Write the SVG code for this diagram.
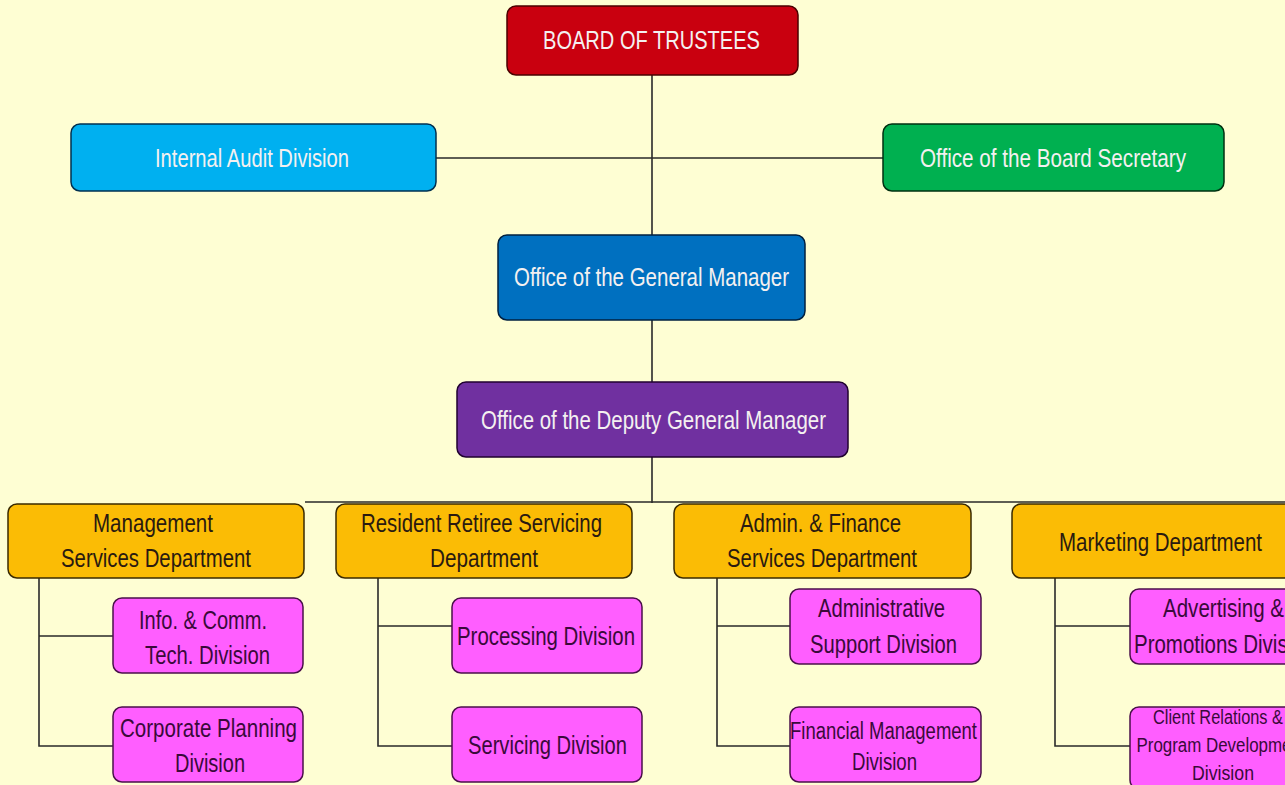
<svg xmlns="http://www.w3.org/2000/svg" width="1285" height="785" viewBox="0 0 1285 785">
<style>
.bx{stroke-width:1.5}
.t{font-family:"Liberation Sans Narrow","Liberation Sans",Arial,sans-serif;text-anchor:middle}
.top{fill:#f4f0f0;font-size:26px}
.dept rect{fill:#FBBC05;stroke:#3a2a00}
.dept text{fill:#2a1a10;font-size:25px}
.div rect{fill:#FF5EFF;stroke:#4a104a}
.div text{fill:#3a0a3a;font-size:25px}
.ln{stroke:#2a2a2a;stroke-width:1.6;fill:none}
</style>
<rect width="1285" height="785" fill="#FEFED3"/>
<g id="connectors" class="ln">
<path d="M652 75V503M436 158H883M305 502H1285"/>
<path d="M39 578V746H113M39 636H113"/>
<path d="M378 578V746H452M378 626H452"/>
<path d="M717 578V746H790M717 626H790"/>
<path d="M1055 578V746H1130M1055 626H1130"/>
</g>
<g id="board"><rect x="507" y="6" width="291" height="69" rx="9" fill="#C9000F" stroke="#4a0000" class="bx"/><text class="t top" x="651.5" y="49" textLength="217" lengthAdjust="spacingAndGlyphs">BOARD OF TRUSTEES</text></g>
<g id="audit"><rect x="71" y="124" width="365" height="67" rx="9" fill="#00B0F0" stroke="#003050" class="bx"/><text class="t top" x="252" y="167" textLength="194" lengthAdjust="spacingAndGlyphs">Internal Audit Division</text></g>
<g id="secretary"><rect x="883" y="124" width="341" height="67" rx="9" fill="#00B050" stroke="#003010" class="bx"/><text class="t top" x="1053" y="167" textLength="266" lengthAdjust="spacingAndGlyphs">Office of the Board  Secretary</text></g>
<g id="gm"><rect x="498" y="235" width="307" height="85" rx="9" fill="#0070C0" stroke="#002040" class="bx"/><text class="t top" x="651.5" y="286" textLength="275" lengthAdjust="spacingAndGlyphs">Office of the General Manager</text></g>
<g id="dgm"><rect x="457" y="382" width="391" height="75" rx="9" fill="#7030A0" stroke="#200030" class="bx"/><text class="t top" x="653.5" y="429" textLength="345" lengthAdjust="spacingAndGlyphs">Office of the Deputy General Manager</text></g>
<g id="msd" class="dept"><rect class="bx" x="8" y="504" width="296" height="74" rx="9"/><text class="t" x="153" y="532" textLength="120" lengthAdjust="spacingAndGlyphs">Management</text><text class="t" x="156" y="567" textLength="190" lengthAdjust="spacingAndGlyphs">Services Department</text></g>
<g id="rrsd" class="dept"><rect class="bx" x="336" y="504" width="296" height="74" rx="9"/><text class="t" x="481.5" y="532" textLength="241" lengthAdjust="spacingAndGlyphs">Resident Retiree Servicing</text><text class="t" x="484" y="567" textLength="108" lengthAdjust="spacingAndGlyphs">Department</text></g>
<g id="afsd" class="dept"><rect class="bx" x="674" y="504" width="297" height="74" rx="9"/><text class="t" x="820.5" y="532" textLength="161" lengthAdjust="spacingAndGlyphs">Admin. &amp; Finance</text><text class="t" x="822" y="567" textLength="190" lengthAdjust="spacingAndGlyphs">Services Department</text></g>
<g id="mkt" class="dept"><rect class="bx" x="1012" y="504" width="296" height="74" rx="9"/><text class="t" x="1160.5" y="551" textLength="203" lengthAdjust="spacingAndGlyphs">Marketing Department</text></g>
<g id="ictd" class="div"><rect class="bx" x="113" y="598" width="190" height="75" rx="9"/><text class="t" x="203" y="629" textLength="128" lengthAdjust="spacingAndGlyphs">Info. &amp; Comm.</text><text class="t" x="207.5" y="664" textLength="125" lengthAdjust="spacingAndGlyphs">Tech. Division</text></g>
<g id="cpd" class="div"><rect class="bx" x="113" y="707" width="190" height="75" rx="9"/><text class="t" x="208.5" y="737" textLength="177" lengthAdjust="spacingAndGlyphs">Corporate Planning</text><text class="t" x="210" y="772" textLength="70" lengthAdjust="spacingAndGlyphs">Division</text></g>
<g id="pd" class="div"><rect class="bx" x="452" y="598" width="190" height="75" rx="9"/><text class="t" x="546" y="645" textLength="178" lengthAdjust="spacingAndGlyphs">Processing Division</text></g>
<g id="sd" class="div"><rect class="bx" x="452" y="707" width="190" height="75" rx="9"/><text class="t" x="547.5" y="754" textLength="159" lengthAdjust="spacingAndGlyphs">Servicing Division</text></g>
<g id="asd" class="div"><rect class="bx" x="790" y="589" width="191" height="75" rx="9"/><text class="t" x="881.5" y="617" textLength="127" lengthAdjust="spacingAndGlyphs">Administrative</text><text class="t" x="883.5" y="653" textLength="147" lengthAdjust="spacingAndGlyphs">Support Division</text></g>
<g id="fmd" class="div"><rect class="bx" x="790" y="707" width="191" height="75" rx="9"/><text class="t" x="883.5" y="739" style="font-size:23px" textLength="187" lengthAdjust="spacingAndGlyphs">Financial Management</text><text class="t" x="884.5" y="770" style="font-size:23px" textLength="65" lengthAdjust="spacingAndGlyphs">Division</text></g>
<g id="apd" class="div"><rect class="bx" x="1130" y="589" width="190" height="75" rx="9"/><text class="t" x="1223.5" y="617" textLength="121" lengthAdjust="spacingAndGlyphs">Advertising &amp;</text><text class="t" x="1224.5" y="653" textLength="181" lengthAdjust="spacingAndGlyphs">Promotions Division</text></g>
<g id="crpd" class="div"><rect class="bx" x="1130" y="707" width="190" height="82" rx="9"/><text class="t" x="1218" y="724" style="font-size:20px" textLength="130" lengthAdjust="spacingAndGlyphs">Client Relations &amp;</text><text class="t" x="1221" y="752" style="font-size:20px" textLength="169" lengthAdjust="spacingAndGlyphs">Program  Development</text><text class="t" x="1223" y="780" style="font-size:20px" textLength="62" lengthAdjust="spacingAndGlyphs">Division</text></g>
</svg>
